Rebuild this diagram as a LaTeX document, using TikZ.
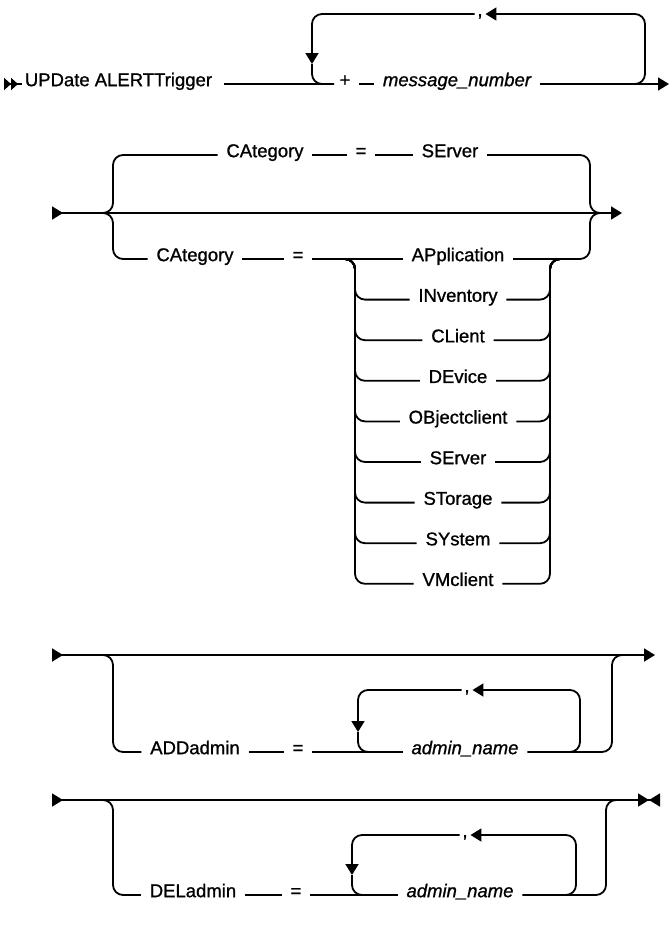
\documentclass[tikz,border=0pt]{standalone}
\usepackage{fontspec}
\newfontfamily\railfont{Liberation Sans}[FakeBold=1.0]
\usetikzlibrary{arrows.meta,calc}

\tikzset{
  kw/.style={font=\railfont\fontsize{18.5}{22}\selectfont, anchor=mid, inner xsep=8pt, inner ysep=0pt},
  var/.style={kw, font=\railfont\fontsize{18.5}{22}\selectfont\itshape},
  rc/.style={rounded corners=10pt},
  tip/.style={-{Triangle[length=11pt,width=13pt]}},
}

\begin{document}
\begin{tikzpicture}[x=1pt,y=-1pt,line width=1.8pt]
    \useasboundingbox (0,0) rectangle (669,927);
    % row 1
    \coordinate (s1) at (4,84);
    \node[kw, anchor=mid west, inner xsep=2pt] (upd) at (22,84) {UPDate ALERTTrigger};
    \draw[{Triangle[reversed,length=7pt,width=12pt] Triangle[reversed,length=7pt,width=12pt]}-] (s1) -- (upd.mid west);
    \coordinate (r1in) at (224,84);
    \node[kw] (plus) at (345,84) {+};
    \node[var] (msg) at (457,84) {message\_number};
    \coordinate (r1out) at (669,84);
    \draw (r1in) -- (plus.mid west);
    \draw (plus.mid east) -- (msg.mid west);
    \draw[tip] (msg.mid east) -- (r1out);
    \node[kw, inner xsep=2pt] (cm1) at (480,14) {,};
    \coordinate (l1R) at (645,14);
    \coordinate (l1j) at (625,84);
    \coordinate (l1d) at (312,64);
    \coordinate (l1e) at (334,84);
    \draw[rc, tip] (l1j) -| (l1R) -- (cm1.mid east);
    \draw[rc, tip] (cm1.mid west) -| (l1d);
    \draw[rc] (l1d) |- (l1e);

    % row 2
    \coordinate (s2) at (52,213);
    \coordinate (e2) at (622,213);
    \draw[{Triangle[reversed,length=11pt,width=13pt]}-{Triangle[length=11pt,width=13pt]}] (s2) -- (e2);
    \coordinate (b2L) at (103,213);
    \coordinate (b2R) at (600,213);
    \coordinate (t2L) at (113,155);
    \coordinate (u2L) at (113,259);
    \coordinate (t2R) at (590,155);
    \coordinate (u2R) at (590,259);
    \node[kw] (catA) at (265,155) {CAtegory};
    \node[kw] (eqA) at (361,155) {=};
    \node[kw] (srvA) at (450,155) {SErver};
    \draw[rc] (b2L) -| (t2L) -- (catA.mid west);
    \draw (catA.mid east) -- (eqA.mid west);
    \draw (eqA.mid east) -- (srvA.mid west);
    \draw[rc] (srvA.mid east) -- (t2R) |- (b2R);
    \node[kw] (catB) at (195,259) {CAtegory};
    \node[kw] (eqB) at (298,259) {=};
    \draw[rc] (b2L) -| (u2L) -- (catB.mid west);
    \draw (catB.mid east) -- (eqB.mid west);
    % category list
    \foreach \t [count=\i from 0] in {APplication,INventory,CLient,DEvice,OBjectclient,SErver,STorage,SYstem,VMclient}
        \node[kw] (it\i) at (458,259+40.6*\i) {\t};
    \coordinate (lstL) at (355,259);
    \coordinate (lstR) at (550,259);
    \draw (eqB.mid east) -- (it0.mid west);
    \draw[rc] (it0.mid east) -- (u2R) |- (b2R);
    \foreach \i in {1,...,8} {
        \draw[rc] ($(lstL)+(-12,0)$) -- (lstL) |- (it\i.mid west);
        \draw[rc] (it\i.mid east) -| (lstR) -- ++(12,0);
    }

    % row 4
    \coordinate (s4) at (52,655);
    \coordinate (e4) at (655,655);
    \draw[{Triangle[reversed,length=11pt,width=13pt]}-{Triangle[length=11pt,width=13pt]}] (s4) -- (e4);
    \coordinate (b4L) at (103,655);
    \coordinate (d4L) at (113,752);
    \coordinate (d4R) at (612,752);
    \coordinate (b4R) at (622,655);
    \node[kw] (add) at (195,752) {ADDadmin};
    \node[kw] (eq4) at (298,752) {=};
    \node[var] (adm4) at (465,752) {admin\_name};
    \draw[rc] (b4L) -| (d4L) -- (add.mid west);
    \draw (add.mid east) -- (eq4.mid west);
    \draw (eq4.mid east) -- (adm4.mid west);
    \draw[rc] (adm4.mid east) -- (d4R) |- (b4R);
    \node[kw, inner xsep=2pt] (cm4) at (467,690) {,};
    \coordinate (l4R) at (580,690);
    \coordinate (l4j) at (562,752);
    \coordinate (l4d) at (358,732);
    \coordinate (l4e) at (380,752);
    \draw[rc, tip] (l4j) -| (l4R) -- (cm4.mid east);
    \draw[rc, tip] (cm4.mid west) -| (l4d);
    \draw[rc] (l4d) |- (l4e);

    % row 5
    \coordinate (s5) at (52,800);
    \coordinate (e5) at (660,800);
    \draw[{Triangle[reversed,length=11pt,width=13pt]}-{Triangle[length=11pt,width=13pt] Triangle[reversed,length=11pt,width=13pt]}] (s5) -- (e5);
    \coordinate (b5L) at (103,800);
    \coordinate (d5L) at (113,895);
    \coordinate (d5R) at (606,895);
    \coordinate (b5R) at (616,800);
    \node[kw] (del) at (193,895) {DELadmin};
    \node[kw] (eq5) at (296,895) {=};
    \node[var] (adm5) at (460,895) {admin\_name};
    \draw[rc] (b5L) -| (d5L) -- (del.mid west);
    \draw (del.mid east) -- (eq5.mid west);
    \draw (eq5.mid east) -- (adm5.mid west);
    \draw[rc] (adm5.mid east) -- (d5R) |- (b5R);
    \node[kw, inner xsep=2pt] (cm5) at (465,835) {,};
    \coordinate (l5R) at (576,835);
    \coordinate (l5j) at (558,895);
    \coordinate (l5d) at (352,875);
    \coordinate (l5e) at (374,895);
    \draw[rc, tip] (l5j) -| (l5R) -- (cm5.mid east);
    \draw[rc, tip] (cm5.mid west) -| (l5d);
    \draw[rc] (l5d) |- (l5e);
\end{tikzpicture}
\end{document}
